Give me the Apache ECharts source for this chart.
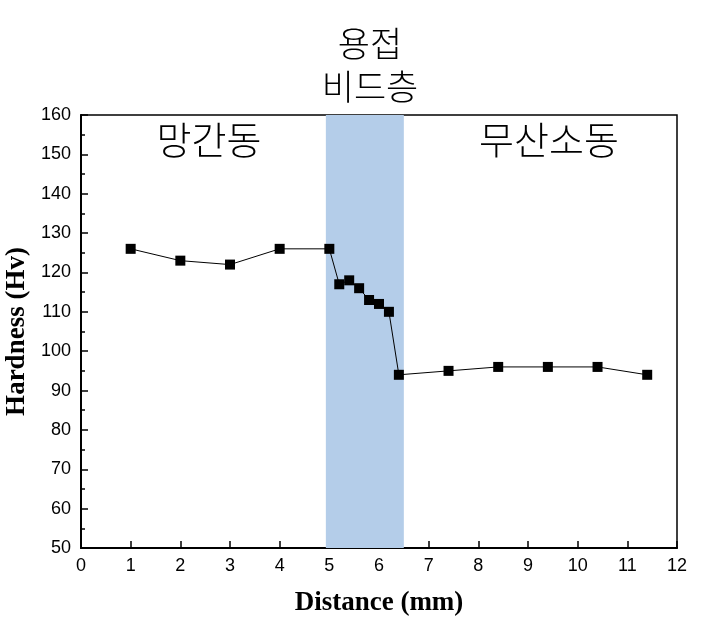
<!DOCTYPE html>
<html>
<head>
<meta charset="utf-8">
<script src="https://cdn.jsdelivr.net/npm/echarts@6/dist/echarts.min.js"></script>
<style>html,body{margin:0;padding:0;background:#fff}#c{width:705px;height:626px}</style>
</head>
<body>
<div id="c"></div>
<script>
const distance = [1, 2, 3, 4, 5, 5.2, 5.4, 5.6, 5.8, 6.0, 6.2, 6.4, 7.4, 8.4, 9.4, 10.4, 11.4];
const hardness = [126, 123, 122, 126, 126, 117, 118, 116, 113, 112, 110, 94, 95, 96, 96, 96, 94];
const beadRange = [4.93, 6.5];
const xTicks = [0, 12, 1];
const yTicks = [50, 160, 10];
const titleLines = ['용접', '비드층'];
const zoneLeft = '망간동';
const zoneRight = '무산소동';

const chart = echarts.init(document.getElementById('c'));
const cjk = '"Noto Sans CJK KR", "Noto Sans", sans-serif';
const serif = '"Liberation Serif", "Times New Roman", serif';
const sans = '"Liberation Sans", Arial, sans-serif';
chart.setOption({
  animation: false,
  backgroundColor: '#fff',
  grid: { left: 81, right: 28, top: 115, bottom: 78, containLabel: false, outerBoundsMode: 'none',
    show: true, borderColor: '#000', borderWidth: 1.5, backgroundColor: 'transparent' },
  title: [
    { text: titleLines.join('\n'), left: 365, top: 17, textAlign: 'center',
      textStyle: { fontFamily: cjk, fontWeight: 300, fontSize: 35, lineHeight: 43, color: '#000' } },
    { text: zoneLeft, left: 204, top: 116, textAlign: 'center',
      textStyle: { fontFamily: cjk, fontWeight: 300, fontSize: 38, color: '#000' } },
    { text: zoneRight, left: 544, top: 116, textAlign: 'center',
      textStyle: { fontFamily: cjk, fontWeight: 300, fontSize: 38, color: '#000' } }
  ],
  xAxis: {
    type: 'value', min: xTicks[0], max: xTicks[1], interval: xTicks[2],
    name: 'Distance (mm)', nameLocation: 'middle', nameGap: 42,
    nameTextStyle: { fontFamily: serif, fontWeight: 'bold', fontSize: 27, color: '#000' },
    axisLine: { show: true, onZero: false, lineStyle: { color: '#000', width: 2 } },
    axisTick: { show: true, inside: true, length: 7, lineStyle: { color: '#000', width: 1.5 } },
    axisLabel: { fontFamily: sans, fontSize: 18, color: '#000', margin: 9 },
    splitLine: { show: false }
  },
  yAxis: {
    type: 'value', min: yTicks[0], max: yTicks[1], interval: yTicks[2],
    name: 'Hardness (Hv)', nameLocation: 'middle', nameGap: 50,
    nameTextStyle: { fontFamily: serif, fontWeight: 'bold', fontSize: 27, color: '#000' },
    axisLine: { show: true, onZero: false, lineStyle: { color: '#000', width: 2 } },
    axisTick: { show: true, inside: true, length: 7, lineStyle: { color: '#000', width: 1.5 } },
    minorTick: { show: true, splitNumber: 2, length: 4, lineStyle: { color: '#000', width: 1.5 } },
    axisLabel: { fontFamily: sans, fontSize: 18, color: '#000', margin: 10 },
    splitLine: { show: false }
  },
  series: [{
    type: 'line',
    data: distance.map((d, i) => [d, hardness[i]]),
    symbol: 'rect', symbolSize: 10,
    itemStyle: { color: '#000' },
    lineStyle: { color: '#000', width: 1 },
    z: 3,
    markArea: {
      silent: true,
      itemStyle: { color: '#b4cde9', opacity: 1 },
      data: [[{ xAxis: beadRange[0] }, { xAxis: beadRange[1] }]]
    }
  }]
});
</script>
</body>
</html>
